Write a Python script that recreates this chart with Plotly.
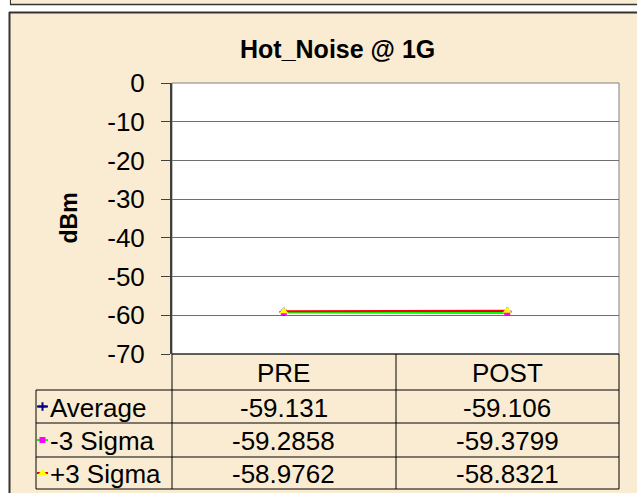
import plotly.graph_objects as go

# ---- data -------------------------------------------------------
categories = ["PRE", "POST"]
series_names = ["Average", "-3 Sigma", "+3 Sigma"]
average = [-59.131, -59.106]
minus_3_sigma = [-59.2858, -59.3799]
plus_3_sigma = [-58.9762, -58.8321]
y_ticks = [0, -10, -20, -30, -40, -50, -60, -70]

title = "Hot_Noise @ 1G"
y_title = "dBm"

# ---- page geometry (pixels) -------------------------------------
W, H = 637, 493
PLOT_L, PLOT_R, PLOT_T, PLOT_B = 172, 619, 83, 354
TABLE_L = 36
ROW_EDGES = [354, 390, 423, 457, 489]
COL_MID = 396

BG = "#FAECD2"
FONT = "Liberation Sans, Arial, sans-serif"


def px(x):
    return x / W


def py(y):
    return 1 - y / H


styles = [
    dict(line=dict(color="#000080", width=2), marker=dict(symbol="cross-thin", size=6,
                                                          line=dict(color="#000080", width=2))),
    dict(line=dict(color="#00FF00", width=2), marker=dict(symbol="square", size=6, color="#FF00FF")),
    dict(line=dict(color="#FF0000", width=2), marker=dict(symbol="triangle-up", size=8, color="#FFFF00")),
]
all_series = [average, minus_3_sigma, plus_3_sigma]

fig = go.Figure()
for name, vals, st in zip(series_names, all_series, styles):
    fig.add_trace(go.Scatter(x=categories, y=vals, name=name, mode="lines+markers",
                             line=st["line"], marker=st["marker"], showlegend=False,
                             xaxis="x", yaxis="y"))

# legend keys inside the data table (pixel overlay axes)
for i, st in enumerate(styles):
    yc = (ROW_EDGES[i + 1] + ROW_EDGES[i + 2]) / 2
    fig.add_trace(go.Scatter(x=[TABLE_L + 1, TABLE_L + 12], y=[yc, yc], mode="lines",
                             line=st["line"], showlegend=False, hoverinfo="skip",
                             xaxis="x2", yaxis="y2"))
    fig.add_trace(go.Scatter(x=[TABLE_L + 6.5], y=[yc], mode="markers",
                             marker=st["marker"], showlegend=False, hoverinfo="skip",
                             xaxis="x2", yaxis="y2"))

shapes = []
# top strip of the previous frame
shapes.append(dict(type="rect", xref="paper", yref="paper", x0=px(0), x1=px(W), y0=py(5), y1=py(12),
                   fillcolor="white", line=dict(width=0), layer="below"))
shapes.append(dict(type="rect", xref="paper", yref="paper", x0=px(0), x1=px(9), y0=py(0), y1=py(H),
                   fillcolor="white", line=dict(width=0), layer="below"))
shapes.append(dict(type="line", xref="paper", yref="paper", x0=px(10), x1=px(W), y0=py(4.5), y1=py(4.5),
                   line=dict(color="#333333", width=1.5)))
shapes.append(dict(type="line", xref="paper", yref="paper", x0=px(10.5), x1=px(10.5), y0=py(0), y1=py(4.5),
                   line=dict(color="#333333", width=1)))
# chart frame
shapes.append(dict(type="line", xref="paper", yref="paper", x0=px(9), x1=px(W), y0=py(12.5), y1=py(12.5),
                   line=dict(color="#333333", width=2)))
shapes.append(dict(type="line", xref="paper", yref="paper", x0=px(9.5), x1=px(9.5), y0=py(12), y1=py(H),
                   line=dict(color="#333333", width=2)))
# white plot area
shapes.append(dict(type="rect", xref="paper", yref="paper", x0=px(PLOT_L), x1=px(PLOT_R),
                   y0=py(PLOT_B), y1=py(PLOT_T), fillcolor="white", line=dict(color="#808080", width=1),
                   layer="below"))
# data table grid
tl = dict(color="black", width=1)
for k, y in enumerate(ROW_EDGES):
    x0 = PLOT_L if k == 0 else TABLE_L
    shapes.append(dict(type="line", xref="paper", yref="paper", x0=px(x0), x1=px(PLOT_R),
                       y0=py(y), y1=py(y), line=tl))
for x in [PLOT_L, COL_MID, PLOT_R]:
    shapes.append(dict(type="line", xref="paper", yref="paper", x0=px(x), x1=px(x),
                       y0=py(ROW_EDGES[0]), y1=py(ROW_EDGES[-1]), line=tl))
shapes.append(dict(type="line", xref="paper", yref="paper", x0=px(TABLE_L), x1=px(TABLE_L),
                   y0=py(ROW_EDGES[1]), y1=py(ROW_EDGES[-1]), line=tl))

annotations = []
annotations.append(dict(text=f"<b>{title}</b>", xref="paper", yref="paper", x=px(337), y=py(49),
                        xanchor="center", yanchor="middle", showarrow=False,
                        font=dict(size=25, color="black", family=FONT)))
annotations.append(dict(text=f"<b>{y_title}</b>", xref="paper", yref="paper", x=px(68),
                        y=py((PLOT_T + PLOT_B) / 2), textangle=-90, showarrow=False,
                        xanchor="center", yanchor="middle",
                        font=dict(size=23, color="black", family=FONT)))
cell_font = dict(size=26, color="black", family=FONT)
for c in categories:
    annotations.append(dict(text=c, xref="x", yref="paper", x=c,
                            y=py((ROW_EDGES[0] + ROW_EDGES[1]) / 2 + 1),
                            xanchor="center", yanchor="middle", showarrow=False, font=cell_font))
for i, (name, vals) in enumerate(zip(series_names, all_series)):
    yc = py((ROW_EDGES[i + 1] + ROW_EDGES[i + 2]) / 2 + 1)
    annotations.append(dict(text=name, xref="paper", yref="paper", x=px(TABLE_L + 12), y=yc,
                            xanchor="left", yanchor="middle", showarrow=False, font=cell_font))
    for c, v in zip(categories, vals):
        annotations.append(dict(text=f"{v:g}", xref="x", yref="paper", x=c, y=yc,
                                xanchor="center", yanchor="middle", showarrow=False, font=cell_font))

fig.update_layout(
    template="none",
    width=W, height=H,
    margin=dict(l=0, r=0, t=0, b=0, pad=0, autoexpand=False),
    paper_bgcolor=BG,
    plot_bgcolor="rgba(0,0,0,0)",
    font=dict(family=FONT, color="black"),
    showlegend=False,
    xaxis=dict(domain=[px(PLOT_L), px(PLOT_R)], type="category", range=[-0.5, 1.5], automargin=False,
               showticklabels=False, showgrid=False, zeroline=False, showline=False, ticks=""),
    yaxis=dict(domain=[py(PLOT_B), py(PLOT_T)], range=[-70, 0], automargin=False,
               tickvals=y_ticks, ticktext=[str(v) for v in y_ticks],
               showgrid=True, gridcolor="#6e6e6e", gridwidth=1, zeroline=False,
               showline=True, linecolor="#404040", linewidth=2,
               ticks="outside", ticklen=9, tickcolor="#404040", tickwidth=1,
               ticklabelstandoff=11, tickfont=dict(size=26, color="black", family=FONT)),
    xaxis2=dict(domain=[0, 1], range=[0, W], visible=False, anchor="y2", automargin=False),
    yaxis2=dict(domain=[0, 1], range=[H, 0], visible=False, anchor="x2", automargin=False),
    shapes=shapes,
    annotations=annotations,
)

# page has no default body margin so the figure fills the window exactly
fig.write_html("out.html", config={"displayModeBar": False},
               post_script="document.body.style.margin='0';")
